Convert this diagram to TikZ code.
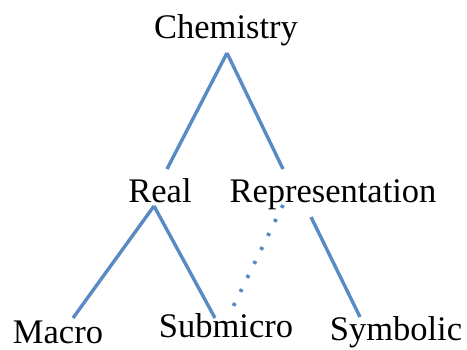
\documentclass[tikz,border=0pt]{standalone}
\usepackage{fontspec}
\setmainfont{Liberation Serif}
\usepackage{xcolor}
\usepackage{tikz}
\definecolor{linkblue}{RGB}{88,139,196}
\usetikzlibrary{positioning}

\begin{document}
\begin{tikzpicture}[
    x=1pt, y=-1pt,
    word/.style={inner sep=0pt, anchor=base, font=\fontsize{34.5}{40}\selectfont},
    link/.style={draw=linkblue, line width=3.4pt},
    dotlink/.style={link, line width=3.8pt, dash pattern=on 3.2pt off 12.4pt}
]
\useasboundingbox (0,0) rectangle (467,349);

\node[word] (chem) at (226,38) {Chemistry};
\node[word] (real) at (160,202) {Real};
\node[word] (rep) at (333,202) {Representation};
\node[word] (macro) at (58,343) {Macro};
\node[word] (sub) at (226,337) {Submicro};
\node[word] (sym) at (396,340) {Symbolic};

\draw[link] ([shift={(1,15)}]chem.base) -- ([shift={(7,-33)}]real.base);
\draw[link] ([shift={(1,15)}]chem.base) -- ([shift={(-50,-33)}]rep.base);
\draw[link] ([shift={(-6,4)}]real.base) -- ([shift={(15,-25)}]macro.base);
\draw[link] ([shift={(-6,4)}]real.base) -- ([shift={(-11,-19)}]sub.base);
\draw[link] ([shift={(-22,15)}]rep.base) -- ([shift={(-36,-23)}]sym.base);
\draw[dotlink] ([shift={(-50,3)}]rep.base) -- ([shift={(2,-20)}]sub.base);

\end{tikzpicture}
\end{document}
